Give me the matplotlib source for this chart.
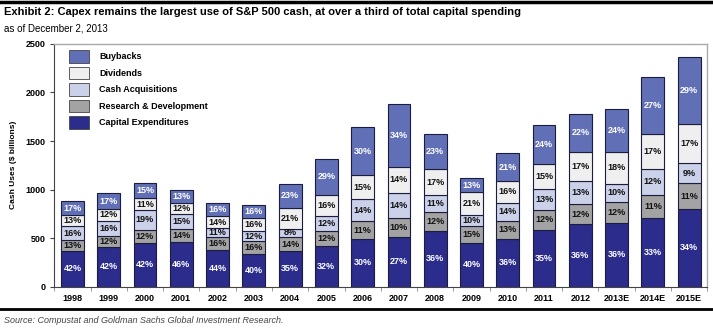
import numpy as np
import matplotlib.pyplot as plt
from matplotlib.patches import Patch
from matplotlib.lines import Line2D

plt.rcParams['font.family'] = ['Liberation Sans Narrow', 'Liberation Sans', 'DejaVu Sans']

# Categories and totals ($ billions)
years = ['1998', '1999', '2000', '2001', '2002', '2003', '2004', '2005', '2006',
         '2007', '2008', '2009', '2010', '2011', '2012', '2013E', '2014E', '2015E']
totals = [883, 962, 1071, 993, 859, 838, 1055, 1319, 1642,
          1882, 1576, 1117, 1374, 1663, 1779, 1827, 2157, 2363]

# Share of each use (percent labels on the bars)
capex = [42, 42, 42, 46, 44, 40, 35, 32, 30, 27, 36, 40, 36, 35, 36, 36, 33, 34]
rnd = [13, 12, 12, 14, 16, 16, 14, 12, 11, 10, 12, 15, 13, 12, 12, 12, 11, 11]
cash_acq = [16, 16, 19, 15, 11, 12, 8, 12, 14, 14, 11, 10, 14, 13, 13, 10, 12, 9]
dividends = [13, 12, 11, 12, 14, 16, 21, 16, 15, 14, 17, 21, 16, 15, 17, 18, 17, 17]
buybacks = [17, 17, 15, 13, 16, 16, 23, 29, 30, 34, 23, 13, 21, 24, 22, 24, 27, 29]

series = [
    ('Capital Expenditures', capex, '#2b2c8c', 'white'),
    ('Research & Development', rnd, '#a3a3a3', '#111111'),
    ('Cash Acquisitions', cash_acq, '#ccd1ea', '#111111'),
    ('Dividends', dividends, '#efefef', '#111111'),
    ('Buybacks', buybacks, '#6170b6', 'white'),
]

fig = plt.figure(figsize=(7.13, 3.28), dpi=100)
ax = fig.add_axes([0.0762, 0.126, 0.9158, 0.740])

x = np.arange(len(years))
shares = np.array([s[1] for s in series], dtype=float)
vals = shares / shares.sum(axis=0) * np.array(totals)
bottom = np.zeros(len(years))
for (name, pct, color, tcolor), v in zip(series, vals):
    ax.bar(x, v, 0.63, bottom=bottom, color=color, edgecolor='#1c1c3c', linewidth=0.8)
    for xi, b, h, p in zip(x, bottom, v, pct):
        ax.text(xi, b + h / 2, f'{p}%', ha='center', va='center', fontsize=6.5,
                fontweight='bold', color=tcolor)
    bottom += v

ax.set_xlim(-0.5, len(years) - 0.5)
ax.set_ylim(0, 2500)
ax.set_yticks(np.arange(0, 2501, 500))
ax.set_xticks(x)
ax.set_xticklabels(years)
ax.set_xticks(np.arange(-0.5, len(years), 1), minor=True)
ax.tick_params(axis='x', which='major', length=0, labelsize=6.5, pad=5)
ax.tick_params(axis='x', which='minor', length=3, color='#888888', width=0.6)
ax.tick_params(axis='y', length=3, labelsize=6.5, color='#444444')
for lab in ax.get_xticklabels() + ax.get_yticklabels():
    lab.set_fontweight('bold')
ax.set_ylabel('Cash Uses ($ billions)', fontsize=6, fontweight='bold', labelpad=6)

for side in ['top', 'right']:
    ax.spines[side].set_color('#aaaaaa')
    ax.spines[side].set_linewidth(1.0)
ax.spines['left'].set_color('#444444')
ax.spines['bottom'].set_color('#444444')

handles = [Patch(facecolor=c, edgecolor='#444444', linewidth=0.6, label=n)
           for n, _, c, _ in series[::-1]]
ax.legend(handles=handles, loc='upper left', bbox_to_anchor=(0.023, 0.975), frameon=False,
          prop={'size': 6.5, 'weight': 'bold'}, handlelength=2.2, handleheight=1.75,
          labelspacing=0.45, handletextpad=1.1, borderpad=0, borderaxespad=0)

# header and footer
fig.add_artist(Line2D([0, 1], [0.994, 0.994], color='black', linewidth=2.5))
fig.text(0.006, 0.962, 'Exhibit 2: Capex remains the largest use of S&P 500 cash, at over a third of total capital spending',
         fontsize=8, fontweight='bold', va='center')
fig.text(0.006, 0.914, 'as of December 2, 2013', fontsize=7, va='center')
fig.add_artist(Line2D([0, 1], [0.058, 0.058], color='black', linewidth=2))
fig.text(0.006, 0.022, 'Source: Compustat and Goldman Sachs Global Investment Research.',
         fontsize=6.5, style='italic', color='#444444', va='center')

fig.savefig('out.png', dpi=100)
